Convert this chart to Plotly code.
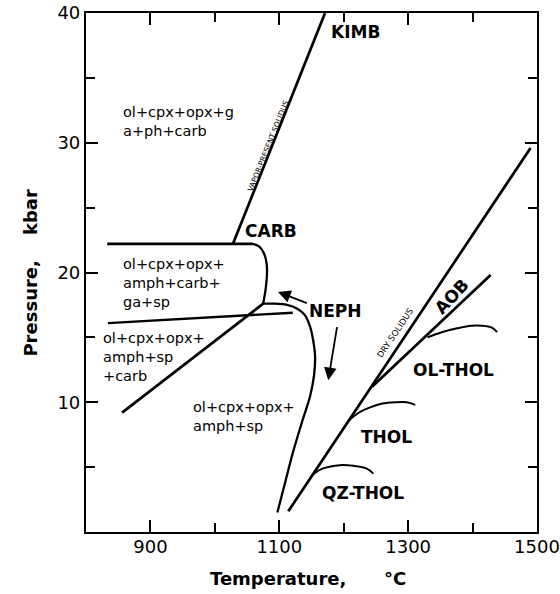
import plotly.graph_objects as go

# Phase boundaries in temperature (°C) / pressure (kbar) space
vapor_solidus_T = [1028, 1171]
vapor_solidus_P = [22.2, 40.0]

carb_top_T = [833, 1028, 1059]
carb_top_P = [22.2, 22.2, 22.2]

carb_corner_T = [1059, 1069, 1076, 1080, 1081, 1079, 1075]
carb_corner_P = [22.2, 22.0, 21.5, 20.8, 20.1, 18.8, 17.6]

neph_T = [1075, 1090, 1112, 1128, 1140, 1148, 1152.5, 1155.5, 1154, 1148, 1136, 1121, 1109, 1097]
neph_P = [17.6, 17.6, 17.5, 17.2, 16.7, 15.8, 14.8, 13.6, 12.1, 10.5, 8.6, 6.1, 3.8, 1.5]

sp_ga_T = [834, 1121]
sp_ga_P = [16.1, 16.9]

amph_carb_T = [856, 1075]
amph_carb_P = [9.2, 17.6]

dry_solidus_T = [1114, 1490]
dry_solidus_P = [1.6, 29.6]

aob_T = [1244, 1428]
aob_P = [11.2, 19.8]

ol_thol_T = [1330, 1352, 1376, 1398, 1415, 1430, 1438]
ol_thol_P = [15.0, 15.4, 15.7, 15.9, 15.9, 15.75, 15.4]

thol_T = [1206, 1222, 1241, 1260, 1280, 1298, 1311]
thol_P = [8.5, 9.15, 9.6, 9.9, 10.0, 10.0, 9.8]

qz_thol_T = [1151, 1168, 1194, 1215, 1235, 1246]
qz_thol_P = [4.4, 4.9, 5.15, 5.1, 4.9, 4.5]

x_ticks = [900, 1100, 1300, 1500]
y_ticks = [10, 20, 30, 40]

FONT = "DejaVu Sans"
INK = "black"

fig = go.Figure()


def boundary(T, P, width=2.7, shape="linear"):
    fig.add_trace(go.Scatter(
        x=T, y=P, mode="lines",
        line=dict(color=INK, width=width, shape=shape, smoothing=1.0),
        hoverinfo="skip", showlegend=False,
    ))


boundary(vapor_solidus_T, vapor_solidus_P)
boundary(carb_top_T, carb_top_P)
boundary(carb_corner_T, carb_corner_P, width=2.3, shape="spline")
boundary(neph_T, neph_P, width=2.3, shape="spline")
boundary(sp_ga_T, sp_ga_P, width=2.4)
boundary(amph_carb_T, amph_carb_P)
boundary(dry_solidus_T, dry_solidus_P)
boundary(aob_T, aob_P)
boundary(ol_thol_T, ol_thol_P, width=2.0, shape="spline")
boundary(thol_T, thol_P, width=2.0, shape="spline")
boundary(qz_thol_T, qz_thol_P, width=2.0, shape="spline")

annotations = []


def label(text, T, P, size=17, bold=True, angle=0, xanchor="center", yanchor="middle", align="center"):
    annotations.append(dict(
        text=text, x=T, y=P, xref="x", yref="y", showarrow=False,
        textangle=angle, xanchor=xanchor, yanchor=yanchor, align=align,
        font=dict(family=FONT, size=size, color=INK, weight="bold" if bold else "normal"),
    ))


# Field assemblages
label("ol+cpx+opx+g<br>a+ph+carb", 855, 31.6, size=14.5, bold=False, xanchor="left", align="left")
label("ol+cpx+opx+<br>amph+carb+<br>ga+sp", 854, 19.2, size=14.5, bold=False, xanchor="left", align="left")
label("ol+cpx+opx+<br>amph+sp<br>+carb", 823, 13.5, size=14.5, bold=False, xanchor="left", align="left")
label("ol+cpx+opx+<br>amph+sp", 963, 8.9, size=14.5, bold=False, xanchor="left", align="left")

# Melt types and solidi
label("KIMB", 1219, 38.5)
label("CARB", 1087, 23.2)
label("NEPH", 1188, 17.0)
label("AOB", 1368, 18.2, angle=-47)
label("OL-THOL", 1370, 12.5)
label("THOL", 1267, 7.3)
label("QZ-THOL", 1230, 3.0)
label("VAPOR-PRESENT SOLIDUS", 1083, 29.8, size=7.5, bold=False, angle=-68)
label("DRY SOLIDUS", 1280, 15.3, size=8.5, bold=False, angle=-56)

# Arrows pointing from NEPH into the neighbouring fields
for head_T, head_P, tail_T, tail_P in [(1098, 18.5, 1145, 17.6), (1176, 11.7, 1190, 15.9)]:
    annotations.append(dict(
        x=head_T, y=head_P, ax=tail_T, ay=tail_P, xref="x", yref="y", axref="x", ayref="y",
        text="", showarrow=True, arrowhead=2, arrowsize=1.4, arrowwidth=1.8, arrowcolor=INK,
    ))

# Axis titles
annotations.append(dict(
    text="Temperature,\u00a0\u00a0\u00a0\u00a0\u00a0\u00a0°C", x=0.492, y=-0.089,
    xref="paper", yref="paper", showarrow=False, xanchor="center", yanchor="middle",
    font=dict(family=FONT, size=18, color=INK, weight="bold"),
))
annotations.append(dict(
    text="Pressure,\u00a0\u00a0\u00a0\u00a0kbar", x=-0.124, y=0.5, textangle=-90,
    xref="paper", yref="paper", showarrow=False, xanchor="center", yanchor="middle",
    font=dict(family=FONT, size=18, color=INK, weight="bold"),
))

axis_common = dict(
    showline=True, linecolor=INK, linewidth=2.2, mirror="ticks",
    ticks="inside", ticklen=12, tickwidth=2, tickcolor=INK,
    showgrid=False, zeroline=False, automargin=False,
    tickfont=dict(family=FONT, size=18, color=INK),
)

fig.update_xaxes(
    range=[800, 1500], tickvals=x_ticks,
    minor=dict(ticks="inside", ticklen=9, tickwidth=2, tickcolor=INK, dtick=100, tick0=800, showgrid=False),
    ticklabelstandoff=-3,
    **axis_common,
)
fig.update_yaxes(
    range=[0, 40], tickvals=y_ticks,
    minor=dict(ticks="inside", ticklen=9, tickwidth=2, tickcolor=INK, dtick=5, tick0=0, showgrid=False),
    ticklabelstandoff=0,
    **axis_common,
)

fig.update_layout(
    width=560, height=594,
    margin=dict(l=86, r=23, t=13, b=62),
    paper_bgcolor="white", plot_bgcolor="white",
    annotations=annotations,
    showlegend=False,
)

fig.write_html("out.html")
